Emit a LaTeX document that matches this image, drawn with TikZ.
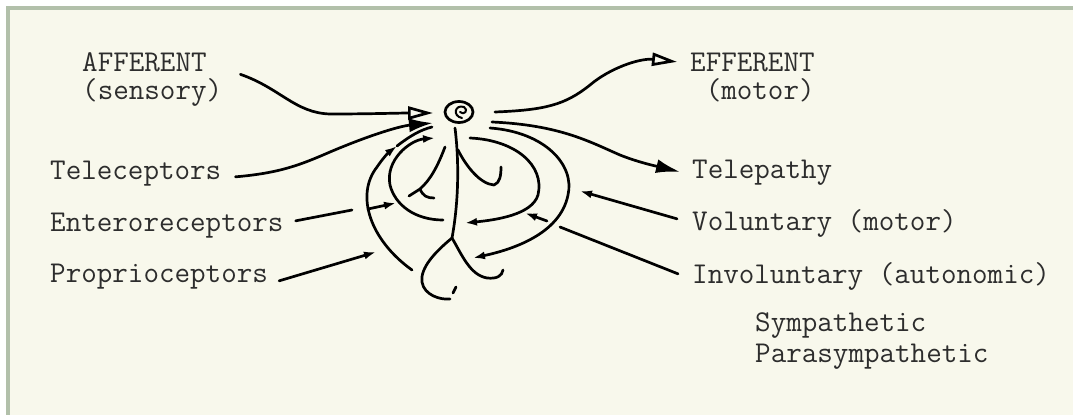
\documentclass[tikz,border=0pt]{standalone}
\usepackage{fontspec}
\usepackage{tikz}
\usetikzlibrary{arrows.meta}
\definecolor{paper}{RGB}{248,248,236}
\definecolor{frame}{RGB}{178,192,170}
\definecolor{ink}{RGB}{45,45,45}

\begin{document}
\begin{tikzpicture}[x=1pt,y=-1pt,
    lbl/.style={font=\ttfamily\fontsize{30.2}{24}\selectfont\addfontfeatures{FakeBold=1.2}, text=ink, inner sep=0pt, anchor=base west},
    stroke/.style={line width=2.7pt, line cap=round, line join=round},
    wedge/.style={stroke, -{Latex[length=24pt,width=14pt]}},
    hollow/.style={stroke, -{Triangle[open,length=25pt,width=13pt]}},
    small/.style={stroke, -{Latex[length=12pt,width=8pt]}}]
    %[scale=1]
\useasboundingbox (0,0) rectangle (1073,415);

% Draw the sheet and its frame
\fill[white] (0,0) rectangle (1073,415);
\fill[paper] (6,6) rectangle (1073,415);
\fill[frame] (6,6) rectangle (1073,9.5);
\fill[frame] (6,6) rectangle (9.5,415);

% Labels on the left
\node[lbl, align=left] (aff) at (82,99) {AFFERENT\\[4pt](sensory)};
\node[lbl] (tele) at (50,179) {Teleceptors};
\node[lbl] (ento) at (50,231) {Enteroreceptors};
\node[lbl] (prop) at (50,282) {Proprioceptors};

% Labels on the right
\node[lbl, align=right] (eff) at (690,99) {EFFERENT\\[4pt](motor)};
\node[lbl] (telep) at (692,178) {Telepathy};
\node[lbl] (volu) at (692,230) {Voluntary (motor)};
\node[lbl] (invo) at (692,283) {Involuntary (autonomic)};
\node[lbl, align=left] (symp) at (755,362) {Sympathetic\\[4pt]Parasympathetic};

% Draw the little man
\draw[stroke] (459,112) ellipse [x radius=14pt, y radius=10.5pt];
\draw[stroke,line width=2pt] (462,118) .. controls (452,116) and (455,104) .. (464,107) .. controls (469,110) and (464,116) .. (460,112);
\draw[stroke] (455,128) .. controls (459,160) and (459,200) .. (452,238);
\draw[stroke] (445,147) .. controls (437,168) and (430,180) .. (420,189);
\draw[stroke] (409,196) -- (420,189) .. controls (423,196) and (427,198) .. (434,198);
\draw[stroke] (458,150) .. controls (466,166) and (480,184) .. (494,185) .. controls (500,183) and (501,175) .. (501,167);
\draw[stroke] (452,238) .. controls (435,252) and (420,268) .. (422,282) .. controls (424,295) and (440,300) .. (450,299);
\draw[stroke] (456,287) -- (453,293);
\draw[stroke] (452,238) .. controls (462,255) and (470,275) .. (487,278) .. controls (497,279) and (502,276) .. (503,270);

% Afferent side
\draw[hollow] ([xshift=18pt,yshift=22.5pt]aff.mid east) .. controls (280,88) and (295,113) .. (330,114) .. controls (370,114) and (400,113) .. (433,113);
\draw[wedge] ([xshift=14pt]tele.mid east) .. controls (280,173) and (300,165) .. (330,152) .. controls (370,135) and (400,126) .. (433,123);
\draw[small] (412,270) .. controls (370,240) and (355,195) .. (377,167) .. controls (383,158) and (389,152) .. (397,146);
\draw[stroke] (397,146) .. controls (410,136) and (420,130) .. (432,127);
\draw[small] (443,220) .. controls (415,220) and (395,205) .. (390,185) .. controls (385,160) and (410,140) .. (435,138);
\draw[stroke] ([xshift=12pt,yshift=8pt]ento.mid east) -- (352,210);
\draw[small] (368,209) -- (396,203);
\draw[small] ([xshift=11pt,yshift=-1pt]prop.mid east) -- (376,252);

% Efferent side
\draw[hollow] (495,112) .. controls (545,110) and (565,105) .. (590,85) .. controls (610,68) and (640,58) .. ([xshift=-13pt,yshift=35pt]eff.mid west);
\draw[wedge] (492,122) .. controls (560,125) and (590,142) .. (620,155) .. controls (640,163) and (660,167) .. ([xshift=-12pt,yshift=4pt]telep.mid west);
\draw[small] (470,138) .. controls (515,140) and (545,165) .. (538,195) .. controls (532,215) and (495,220) .. (465,223);
\draw[small] (490,128) .. controls (545,132) and (575,165) .. (568,195) .. controls (560,235) and (510,250) .. (473,258);
\draw[small] ([xshift=-15pt,yshift=9pt]volu.mid west) -- (580,191);
\draw[stroke] ([xshift=-14pt,yshift=7pt]invo.mid west) -- (560,227);
\draw[small] (547,221) -- (525,213);

\end{tikzpicture}
\end{document}
